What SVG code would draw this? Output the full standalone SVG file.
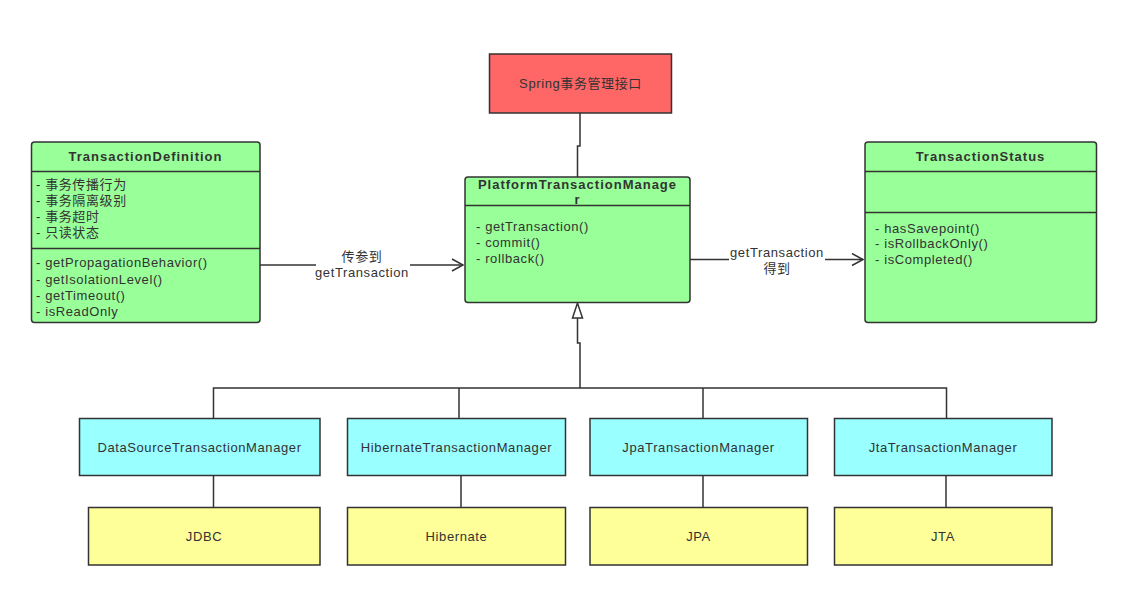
<svg xmlns="http://www.w3.org/2000/svg" width="1146" height="603" viewBox="0 0 1146 603">
<style>
text{font-family:"Liberation Sans","Noto Sans CJK SC",sans-serif;font-size:13px;fill:#333;letter-spacing:0.6px}
.b{font-weight:bold;letter-spacing:1px}
.c{text-anchor:middle}
.box{stroke:#333;stroke-width:1.5}
.g{fill:#99FF99}.r{fill:#FF6666}.cy{fill:#99FFFF}.y{fill:#FFFF99}
.ln{fill:none;stroke:#333;stroke-width:1.5}
</style>
<defs>
<marker id="open" markerWidth="14" markerHeight="14" refX="12" refY="7" orient="auto" markerUnits="userSpaceOnUse">
<path d="M1,1 L12,7 L1,13" fill="none" stroke="#333" stroke-width="1.5"/>
</marker>
</defs>
<rect width="1146" height="603" fill="#fff"/>
<g id="connectors">
<path class="ln" d="M580,113 V146 H577.5 V177"/>
<path class="ln" d="M260,265 H463" marker-end="url(#open)"/>
<rect x="316" y="247" width="94" height="34" fill="#fff"/>
<text class="c" x="362" y="261">传参到</text>
<text class="c" x="362" y="277">getTransaction</text>
<path class="ln" d="M690,259.5 H863" marker-end="url(#open)"/>
<rect x="729" y="244" width="96" height="33" fill="#fff"/>
<text class="c" x="777" y="257">getTransaction</text>
<text class="c" x="777" y="273">得到</text>
<path class="ln" d="M577.5,318 V343 H580 V388"/>
<path d="M577.5,303 L572.5,318 H582.5 Z" fill="#fff" stroke="#333" stroke-width="1.5"/>
<path class="ln" d="M213.5,418 V388 H946.5 V418"/>
<path class="ln" d="M459,388 V418"/>
<path class="ln" d="M703,388 V418"/>
<path class="ln" d="M213.5,476 V507"/>
<path class="ln" d="M461,476 V507"/>
<path class="ln" d="M703,476 V507"/>
<path class="ln" d="M946,476 V507"/>
</g>
<g id="spring">
<rect class="box r" x="489.5" y="54" width="182" height="59"/>
<text class="c" x="580.5" y="88">Spring事务管理接口</text>
</g>
<g id="ptm">
<rect class="box g" x="465" y="177" width="225" height="125.5" rx="3"/>
<path class="ln" d="M465,205.5 H690"/>
<text class="c b" x="577.5" y="189">PlatformTransactionManage</text>
<text class="c b" x="577.5" y="204">r</text>
<text x="476" y="231">- getTransaction()</text>
<text x="476" y="247">- commit()</text>
<text x="476" y="263">- rollback()</text>
</g>
<g id="td">
<rect class="box g" x="31.5" y="142" width="228.5" height="180.5" rx="3"/>
<path class="ln" d="M31.5,171.5 H260 M31.5,248.5 H260"/>
<text class="c b" x="145.5" y="161">TransactionDefinition</text>
<text x="36" y="189">- 事务传播行为</text>
<text x="36" y="205">- 事务隔离级别</text>
<text x="36" y="221">- 事务超时</text>
<text x="36" y="237">- 只读状态</text>
<text x="36" y="267">- getPropagationBehavior()</text>
<text x="36" y="284">- getIsolationLevel()</text>
<text x="36" y="300">- getTimeout()</text>
<text x="36" y="316">- isReadOnly</text>
</g>
<g id="ts">
<rect class="box g" x="865" y="142" width="231.5" height="180.5" rx="3"/>
<path class="ln" d="M865,171.5 H1096.5 M865,212.5 H1096.5"/>
<text class="c b" x="980.5" y="161">TransactionStatus</text>
<text x="875" y="233">- hasSavepoint()</text>
<text x="875" y="248">- isRollbackOnly()</text>
<text x="875" y="264">- isCompleted()</text>
</g>
<g id="dstm">
<rect class="box cy" x="79.5" y="418.5" width="240.5" height="57"/>
<text class="c" x="199.5" y="452">DataSourceTransactionManager</text>
</g>
<g id="htm">
<rect class="box cy" x="347.5" y="418.5" width="218" height="57"/>
<text class="c" x="456.5" y="452">HibernateTransactionManager</text>
</g>
<g id="jpatm">
<rect class="box cy" x="590" y="418.5" width="217.5" height="57"/>
<text class="c" x="698.5" y="452">JpaTransactionManager</text>
</g>
<g id="jtatm">
<rect class="box cy" x="834.5" y="418.5" width="217.5" height="57"/>
<text class="c" x="943" y="452">JtaTransactionManager</text>
</g>
<g id="jdbc">
<rect class="box y" x="88.5" y="507.5" width="231.5" height="57.5"/>
<text class="c" x="204" y="541">JDBC</text>
</g>
<g id="hibernate">
<rect class="box y" x="347.5" y="507.5" width="218" height="57.5"/>
<text class="c" x="456.5" y="541">Hibernate</text>
</g>
<g id="jpa">
<rect class="box y" x="590" y="507.5" width="217.5" height="57.5"/>
<text class="c" x="698.5" y="541">JPA</text>
</g>
<g id="jta">
<rect class="box y" x="834.5" y="507.5" width="217.5" height="57.5"/>
<text class="c" x="943" y="541">JTA</text>
</g>
</svg>
